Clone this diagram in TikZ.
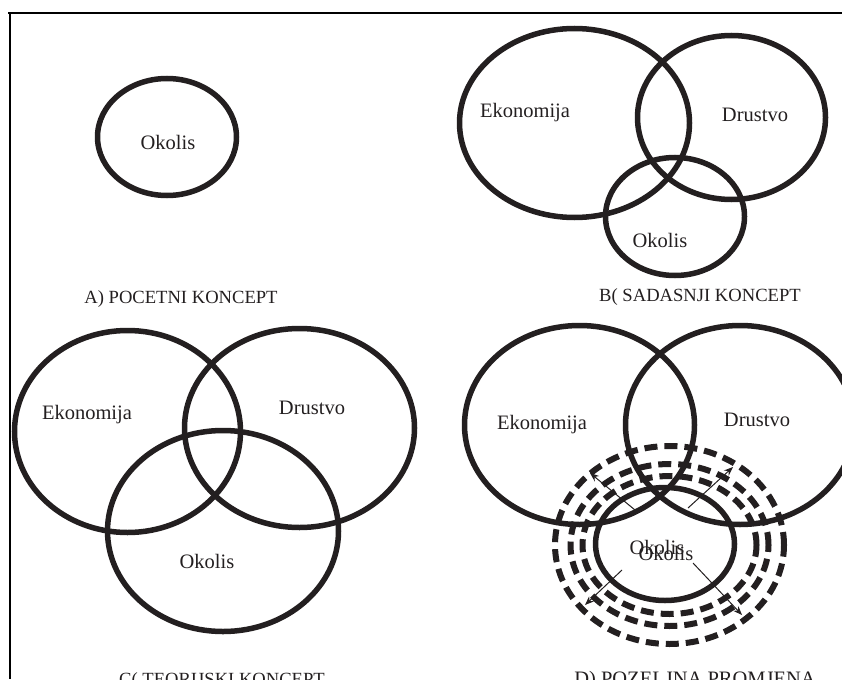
\documentclass[tikz,border=0pt]{standalone}
\usepackage{fontspec}
\setmainfont{Liberation Serif}
\usepackage{tikz}
\usetikzlibrary{
  arrows.meta,
  shapes.geometric,
  positioning
}
\definecolor{vnInk}{HTML}{231F20}
\tikzset{
  krug/.style={draw=vnInk, ellipse, line width=5.5pt, inner sep=0pt},
  prsten/.style={draw=vnInk, ellipse, line width=6pt, inner sep=0pt,
    dash pattern=on 13pt off 7pt},
  natpis/.style={font=\fontsize{20.5}{24}\selectfont, text=vnInk, inner sep=0pt},
  naslov/.style={font=\fontsize{18.6}{22}\selectfont, text=vnInk, inner sep=0pt},
  smjer/.style={-{Stealth[length=9pt, width=7pt]}, line width=1pt, vnInk},
  okvir/.style={line width=2.2pt, black}
}

\begin{document}
\begin{tikzpicture}[x=1pt, y=-1pt]
  \useasboundingbox (0,0) rectangle (842,679);
  \clip (0,0) rectangle (842,679);

  % okvir
  \coordinate (okGL) at (8,13);
  \coordinate (okGD) at (842,13);
  \coordinate (okLG) at (10,13);
  \coordinate (okLD) at (10,679);
  \draw[okvir] (okGL) -- (okGD);
  \draw[okvir] (okLG) -- (okLD);

  % A) pocetni
  \node[krug, minimum width=139pt, minimum height=117pt] (okoA) at (167,137) {};
  \node[natpis] (tOkoA) at (168,142) {Okolis};
  \node[naslov] (nasA) at (181,299) {A) POCETNI KONCEPT};

  % B) sadasnji
  \node[krug, minimum width=230pt, minimum height=189pt] (ekoB) at (574.5,123) {};
  \node[krug, minimum width=188pt, minimum height=164pt] (druB) at (731.5,117.5) {};
  \node[krug, minimum width=139pt, minimum height=118pt] (okoB) at (675,216.5) {};
  \node[natpis] (tEkoB) at (525,113) {Ekonomija};
  \node[natpis] (tDruB) at (755,115) {Drustvo};
  \node[natpis] (tOkoB) at (660,240) {Okolis};
  \node[naslov] (nasB) at (700,297) {B( SADASNJI KONCEPT};

  % C) teorijski
  \node[krug, minimum width=226pt, minimum height=202pt] (ekoC) at (127.5,431.5) {};
  \node[krug, minimum width=230pt, minimum height=199pt] (druC) at (299.5,428) {};
  \node[krug, minimum width=231pt, minimum height=201pt] (okoC) at (223,531) {};
  \node[natpis] (tEkoC) at (87,415) {Ekonomija};
  \node[natpis] (tDruC) at (312,408) {Drustvo};
  \node[natpis] (tOkoC) at (207,561) {Okolis};
  \node[naslov] (nasC) at (222,681) {C( TEORIJSKI KONCEPT};

  % D) pozeljna promjena
  \foreach \w/\h in {229/198, 198/162, 174/138}
    \node[prsten, minimum width=\w pt, minimum height=\h pt] at (669.5,545) {};
  \node[krug, minimum width=230pt, minimum height=199pt] (ekoD) at (579.5,425) {};
  \node[krug, minimum width=229pt, minimum height=199pt] (druD) at (740,425) {};
  \node[krug, minimum width=139pt, minimum height=113pt] (okoD) at (665,544) {};
  \coordinate (sGL) at (635,510); \coordinate (kGL) at (590,473);
  \coordinate (sGD) at (688,508); \coordinate (kGD) at (733,467);
  \coordinate (sDL) at (622,570); \coordinate (kDL) at (585,605);
  \coordinate (sDD) at (693,563); \coordinate (kDD) at (742,615);
  \foreach \s/\e in {sGL/kGL, sGD/kGD, sDL/kDL, sDD/kDD}{\draw[smjer] (\s) -- (\e);}
  \node[natpis] (tEkoD) at (542,425) {Ekonomija};
  \node[natpis] (tDruD) at (757,420) {Drustvo};
  \node[natpis] (tOkoD) at (657,547) {Okolis};
  \node[natpis] (tOkoD2) at (666,553) {Okolis};
  \node[naslov, font=\fontsize{20.5}{24}\selectfont] (nasD) at (695,681) {D) POZELJNA PROMJENA};
\end{tikzpicture}
\end{document}
